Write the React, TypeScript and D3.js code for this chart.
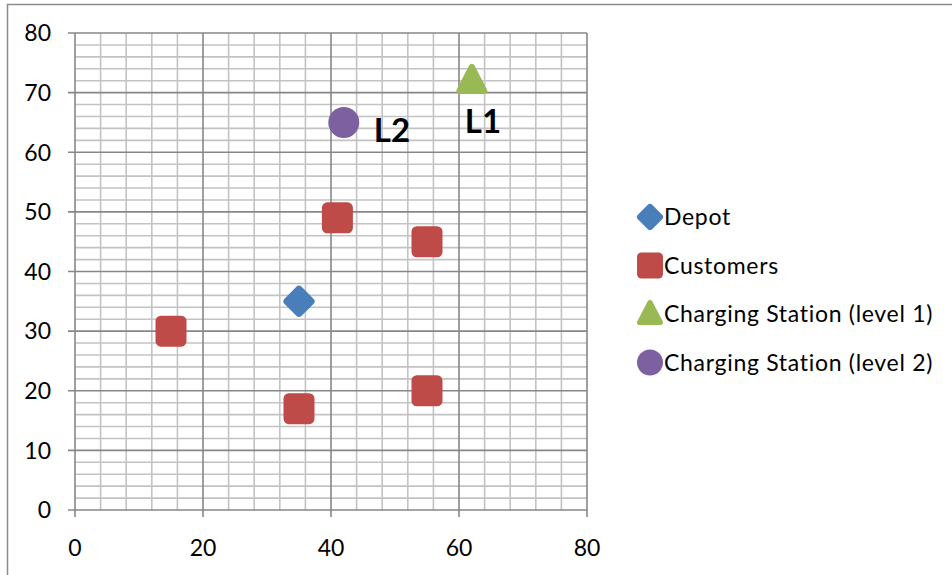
import React from 'react';
import * as d3 from 'd3';

const depot = [{ x: 35, y: 35 }];
const customers = [
  { x: 15, y: 30 },
  { x: 41, y: 49 },
  { x: 55, y: 45 },
  { x: 35, y: 17 },
  { x: 55, y: 20 },
];
const stationL1 = [{ x: 62, y: 72 }];
const stationL2 = [{ x: 42, y: 65 }];
const xTicks = [0, 20, 40, 60, 80];
const yTicks = [0, 10, 20, 30, 40, 50, 60, 70, 80];
const legendItems = ['Depot', 'Customers', 'Charging Station (level 1)', 'Charging Station (level 2)'];
const colors = ['#4a7ebb', '#be4b48', '#98b954', '#7d60a0'];

const W = 952;
const H = 575;
const FONT = 'Lato, "Open Sans", sans-serif';

const x = d3.scaleLinear().domain([0, 80]).range([75, 587]);
const y = d3.scaleLinear().domain([0, 80]).range([510, 33]);

const Marker: React.FC<{ kind: number; cx: number; cy: number; s: number }> = ({ kind, cx, cy, s }) => {
  const c = colors[kind];
  if (kind === 0) {
    const h = s * 0.39;
    return (
      <rect x={-h} y={-h} width={2 * h} height={2 * h} rx={s * 0.12} fill={c}
        transform={`translate(${cx},${cy}) rotate(45)`} />
    );
  }
  if (kind === 1) {
    const h = s / 2;
    return <rect x={cx - h} y={cy - h} width={s} height={s} rx={s * 0.17} fill={c} />;
  }
  if (kind === 2) {
    const r = s * 0.42;
    const pts: [number, number][] = [
      [cx, cy - r * 1.05],
      [cx + r * 0.95, cy + r * 0.78],
      [cx - r * 0.95, cy + r * 0.78],
    ];
    return (
      <path d={`M${pts.map(p => p.join(',')).join('L')}Z`} fill={c} stroke={c}
        strokeWidth={s * 0.2} strokeLinejoin="round" />
    );
  }
  return <circle cx={cx} cy={cy} r={s / 2} fill={c} />;
};

export default function App() {
  const xMinor = d3.range(0, 81, 4);
  const yMinor = d3.range(0, 81, 2);
  const series = [depot, customers, stationL1, stationL2];
  return (
    <div style={{ position: 'fixed', left: 0, top: 0 }}>
      <svg width={W} height={H} style={{ display: 'block', background: '#fff' }}>
        <rect x={7.5} y={4.5} width={W + 10} height={H + 10} fill="#fff" stroke="#8c8c8c" strokeWidth={1.5} />
        {/* minor grid */}
        {xMinor.filter(v => v % 20 !== 0).map(v => (
          <line key={'xm' + v} x1={x(v)} x2={x(v)} y1={y(0)} y2={y(80)} stroke="#c3c3c3" strokeWidth={1.6} />
        ))}
        {yMinor.filter(v => v % 10 !== 0).map(v => (
          <line key={'ym' + v} x1={x(0)} x2={x(80)} y1={y(v)} y2={y(v)} stroke="#c3c3c3" strokeWidth={1.6} />
        ))}
        {/* major grid */}
        {xTicks.map(v => (
          <line key={'xM' + v} x1={x(v)} x2={x(v)} y1={y(0) + 7} y2={y(80)} stroke="#878787" strokeWidth={1.6} />
        ))}
        {yTicks.map(v => (
          <line key={'yM' + v} x1={x(0) - 7} x2={x(80)} y1={y(v)} y2={y(v)} stroke="#878787" strokeWidth={1.6} />
        ))}
        {/* tick labels */}
        {yTicks.map(v => (
          <text key={'yl' + v} x={51} y={y(v)} dy="0.36em" textAnchor="end" fontFamily={FONT} fontSize={23} fill="#000">{v}</text>
        ))}
        {xTicks.map(v => (
          <text key={'xl' + v} x={x(v)} y={548} dy="0.36em" textAnchor="middle" fontFamily={FONT} fontSize={23} fill="#000">{v}</text>
        ))}
        {/* points */}
        {series.map((pts, k) => pts.map((p, i) => (
          <Marker key={k + '-' + i} kind={k} cx={x(p.x)} cy={y(p.y)} s={31} />
        )))}
        {/* annotations */}
        <text x={x(stationL2[0].x) + 30} y={y(stationL2[0].y) + 20} fontFamily={FONT} fontWeight="bold" fontSize={33} fill="#000">L2</text>
        <text x={x(stationL1[0].x) - 7} y={y(stationL1[0].y) + 52} fontFamily={FONT} fontWeight="bold" fontSize={33} fill="#000">L1</text>
        {/* legend */}
        {legendItems.map((name, i) => {
          const cy = 217 + i * 48.5;
          return (
            <g key={name}>
              <Marker kind={i} cx={650} cy={cy} s={26} />
              <text x={664} y={cy} dy="0.36em" fontFamily={FONT} fontSize={23} letterSpacing={0.7} fill="#000">{name}</text>
            </g>
          );
        })}
      </svg>
    </div>
  );
}
